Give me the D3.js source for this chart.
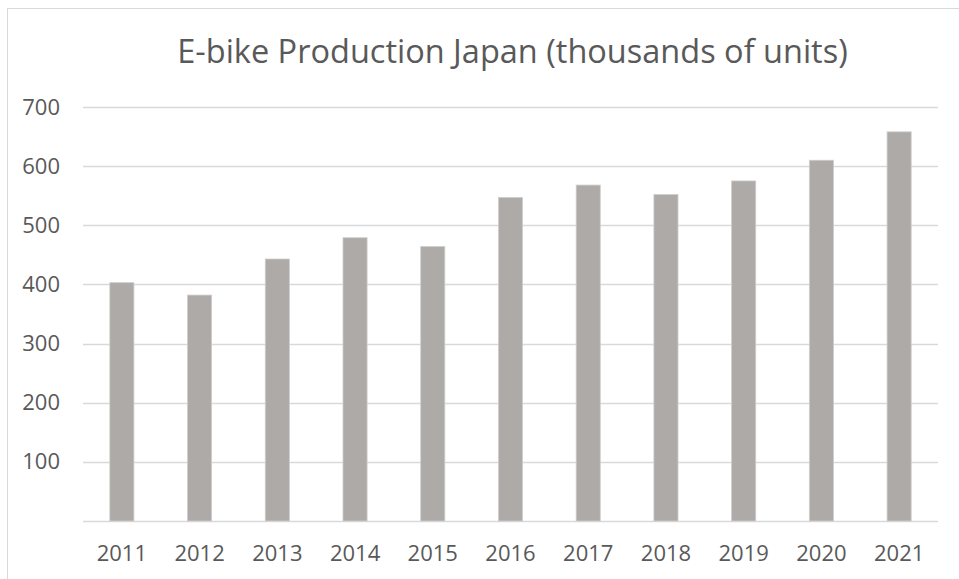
<!DOCTYPE html>
<html>
<head>
<meta charset="utf-8">
<script src="https://cdn.jsdelivr.net/npm/d3@7"></script>
<style>
  body { margin: 0; background: #fff; }
  text { font-family: "Open Sans", sans-serif; fill: #595959; }
</style>
</head>
<body>
<script>
// data
var years = ["2011", "2012", "2013", "2014", "2015", "2016", "2017", "2018", "2019", "2020", "2021"];
var units = [403, 382, 443, 479, 464, 547, 568, 552, 575, 610, 658];
var yTicks = [100, 200, 300, 400, 500, 600, 700];
var title = "E-bike Production Japan (thousands of units)";

var width = 959, height = 579;
var margin = {top: 107, right: 21, bottom: 58, left: 83};

var svg = d3.select("body").append("svg")
    .attr("width", width)
    .attr("height", height);

// chart border (runs off the right and bottom edge)
svg.append("rect")
    .attr("x", 7.5)
    .attr("y", 8.5)
    .attr("width", width + 20)
    .attr("height", height + 20)
    .style("fill", "none")
    .style("stroke", "#d9d9d9");

var x = d3.scaleBand()
    .domain(years)
    .range([margin.left, width - margin.right])
    .paddingInner(0.69)
    .paddingOuter(0.345);

var y = d3.scaleLinear()
    .domain([0, 700])
    .range([height - margin.bottom, margin.top]);

// gridlines
svg.append("g")
  .selectAll("line")
  .data([0].concat(yTicks))
  .enter().append("line")
    .attr("x1", margin.left)
    .attr("x2", width - margin.right)
    .attr("y1", function(d) { return Math.round(y(d)) + 0.5; })
    .attr("y2", function(d) { return Math.round(y(d)) + 0.5; })
    .style("stroke", "#d9d9d9")
    .style("stroke-width", 1.3);

// y labels
var yAxis = d3.axisLeft(y).tickValues(yTicks).tickSize(0).tickPadding(0);
svg.append("g")
    .attr("transform", "translate(60,0)")
    .call(yAxis)
    .call(function(g) { g.select(".domain").remove(); })
    .selectAll("text")
    .style("font-family", "'Open Sans', sans-serif")
    .style("font-size", "22px")
    .attr("fill", "#595959");

// x labels
var xAxis = d3.axisBottom(x).tickSize(0).tickPadding(0);
svg.append("g")
    .attr("transform", "translate(0," + (height - margin.bottom + 24) + ")")
    .call(xAxis)
    .call(function(g) { g.select(".domain").remove(); })
    .selectAll("text")
    .style("font-family", "'Open Sans', sans-serif")
    .style("font-size", "22px")
    .attr("fill", "#595959");

// bars
svg.append("g")
  .selectAll("rect")
  .data(units)
  .enter().append("rect")
    .attr("x", function(d, i) { return x(years[i]); })
    .attr("y", function(d) { return y(d); })
    .attr("width", x.bandwidth())
    .attr("height", function(d) { return y(0) - y(d); })
    .style("fill", "#aeaaa8")
    .style("stroke", "#cfcdcc")
    .style("stroke-width", 0.8);

// title
svg.append("text")
    .attr("x", 512.5)
    .attr("y", 63)
    .attr("text-anchor", "middle")
    .style("font-size", "32.5px")
    .text(title);
</script>
</body>
</html>
